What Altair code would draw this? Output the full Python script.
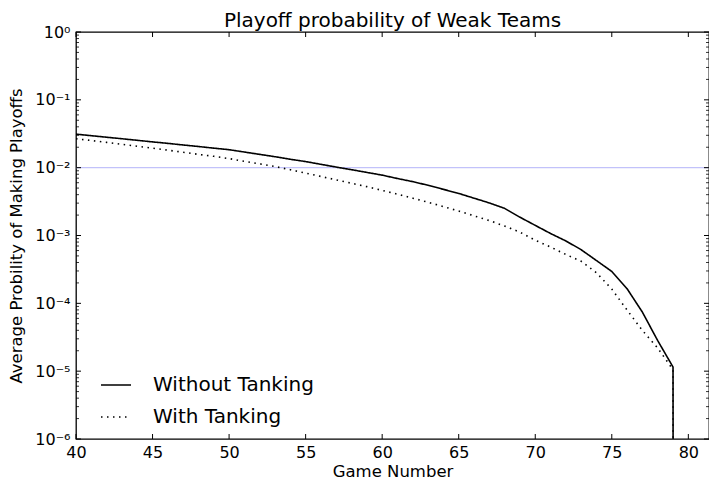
import altair as alt
import pandas as pd

games = list(range(40, 81))
without_tanking = [0.0312, 0.0296, 0.0281, 0.0267, 0.0253, 0.0240, 0.0228, 0.0216, 0.0205, 0.0194,
                   0.0184, 0.0170, 0.0157, 0.0145, 0.0133, 0.0123, 0.0112, 0.0102, 0.00933, 0.00851,
                   0.00776, 0.00692, 0.00622, 0.00550, 0.00479, 0.00417, 0.00355, 0.00302, 0.00251, 0.00186,
                   0.00141, 0.00107, 0.000832, 0.000617, 0.000427, 0.000295, 0.000164, 0.0000741, 0.0000282, 0.0000115,
                   1e-300]
with_tanking = [0.0267, 0.0251, 0.0236, 0.0221, 0.0207, 0.0194, 0.0181, 0.0169, 0.0157, 0.0147,
                0.0136, 0.0124, 0.0114, 0.0104, 0.00933, 0.00832, 0.00741, 0.00661, 0.00589, 0.00525,
                0.00462, 0.00407, 0.00355, 0.00309, 0.00267, 0.00229, 0.00195, 0.00166, 0.00138, 0.00112,
                0.000851, 0.000676, 0.000525, 0.000417, 0.000282, 0.000162, 0.0000794, 0.0000398, 0.0000219, 0.0000105,
                1e-300]
series_names = ["Without Tanking", "With Tanking"]
threshold = [0.01]
x_ticks = [40, 45, 50, 55, 60, 65, 70, 75, 80]
y_major = [1, 0.1, 0.01, 0.001, 0.0001, 0.00001, 0.000001]
y_minor = [m * 10.0 ** (-k) for k in range(1, 7) for m in range(2, 10)]

W, H = 633, 407
FONT = "DejaVu Sans"

df = pd.concat([
    pd.DataFrame({"game": games, "prob": without_tanking, "series": series_names[0]}),
    pd.DataFrame({"game": games, "prob": with_tanking, "series": series_names[1]}),
])

xscale = alt.Scale(domain=[40, 81.35], nice=False, zero=False)
yscale = alt.Scale(type="log", domain=[1e-6, 1], nice=False)

sup = {0: "⁰", -1: "⁻¹", -2: "⁻²", -3: "⁻³", -4: "⁻⁴", -5: "⁻⁵", -6: "⁻⁶"}
e = "round(log(datum.value)/LN10)"
expr = "''"
for k, s in sup.items():
    expr = f"({e} == {k} ? '10{s}' : {expr})"

hline = alt.Chart(pd.DataFrame({"y": threshold})).mark_rule(
    color="#c2c2fa", strokeWidth=1.2
).encode(y=alt.Y("y:Q", scale=yscale))

lines = alt.Chart(df).mark_line(color="black", strokeWidth=1.6, clip=True).encode(
    x=alt.X("game:Q", scale=xscale, title="Game Number",
            axis=alt.Axis(values=x_ticks, format="d", labelPadding=5, labelFlush=False,
                          titleBaseline="alphabetic", titleY=37)),
    y=alt.Y("prob:Q", scale=yscale, title="Average Probility of Making Playoffs",
            axis=alt.Axis(values=y_major, labelExpr=expr, labelPadding=6, labelFlush=False,
                          titleBaseline="alphabetic", titleX=-55, titleY=H / 2,
                          titleFontSize=16.5)),
    strokeDash=alt.StrokeDash(
        "series:N",
        scale=alt.Scale(domain=series_names, range=[[1, 0], [1.5, 4.5]]),
        legend=alt.Legend(title=None, orient="none", legendX=24, legendY=337,
                          symbolType="stroke", symbolSize=900, symbolStrokeWidth=1.5,
                          symbolStrokeColor="black", labelFontSize=20, labelFont=FONT,
                          labelColor="black", labelOffset=21, labelLimit=400,
                          rowPadding=6, padding=0),
    ),
    detail="series:N",
)

xt = pd.DataFrame({"x": x_ticks})
ticks_bottom = alt.Chart(xt).mark_rule(color="black", strokeWidth=1).encode(
    x=alt.X("x:Q", scale=xscale), y=alt.value(H), y2=alt.value(H - 5))
ticks_top = alt.Chart(xt).mark_rule(color="black", strokeWidth=1).encode(
    x=alt.X("x:Q", scale=xscale), y=alt.value(0), y2=alt.value(5))

ym = pd.DataFrame({"y": y_major})
yn = pd.DataFrame({"y": y_minor})
ticks_left = alt.Chart(ym).mark_rule(color="black", strokeWidth=1).encode(
    y=alt.Y("y:Q", scale=yscale), x=alt.value(0), x2=alt.value(5))
ticks_right = alt.Chart(ym).mark_rule(color="black", strokeWidth=1).encode(
    y=alt.Y("y:Q", scale=yscale), x=alt.value(W), x2=alt.value(W - 5))
minor_left = alt.Chart(yn).mark_rule(color="black", strokeWidth=0.8).encode(
    y=alt.Y("y:Q", scale=yscale), x=alt.value(0), x2=alt.value(3))
minor_right = alt.Chart(yn).mark_rule(color="black", strokeWidth=0.8).encode(
    y=alt.Y("y:Q", scale=yscale), x=alt.value(W), x2=alt.value(W - 3))

chart = alt.layer(
    hline, lines, ticks_bottom, ticks_top, ticks_left, ticks_right, minor_left, minor_right
).properties(
    width=W, height=H,
    title=alt.TitleParams("Playoff probability of Weak Teams", font=FONT, fontSize=20,
                          fontWeight="normal", color="black", offset=-7),
    autosize=alt.AutoSizeParams(type="none"),
    padding={"left": 68, "top": 24, "right": 0, "bottom": 40},
).configure_view(
    stroke="black", strokeWidth=1.3
).configure_axis(
    domain=False, ticks=False, grid=False,
    labelFont=FONT, labelFontSize=16, labelColor="black",
    titleFont=FONT, titleFontSize=16.5, titleFontWeight="normal", titleColor="black",
)

chart.save("out.html", embed_options={"renderer": "svg", "actions": False})
